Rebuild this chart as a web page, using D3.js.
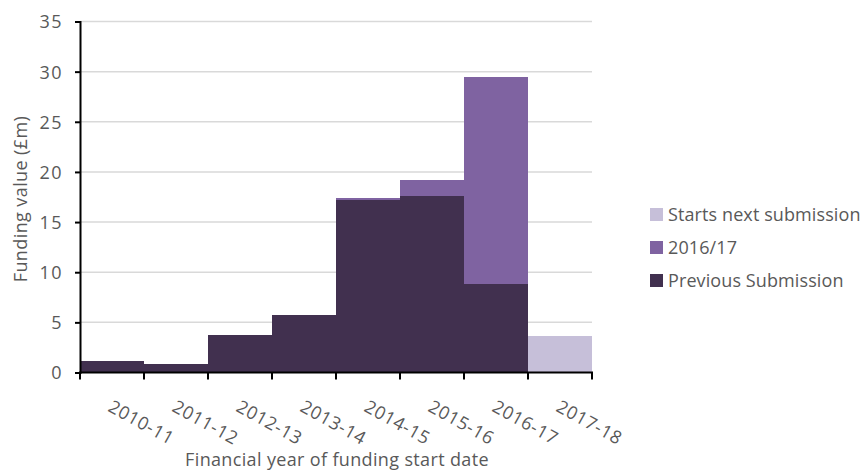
<!DOCTYPE html>
<html>
<head>
<meta charset="utf-8">
<script src="https://cdn.jsdelivr.net/npm/d3@7"></script>
<style>
  html, body { margin: 0; padding: 0; background: #fff; }
  svg text { font-family: "Open Sans", "Noto Sans", sans-serif; fill: #595959; }
</style>
</head>
<body>
<svg id="chart" width="867" height="476"></svg>
<script>
// Financial years (category axis)
const years = ["2010-11", "2011-12", "2012-13", "2013-14", "2014-15", "2015-16", "2016-17", "2017-18"];

// Funding value (£m) per series, stacked bottom to top
const previousSubmission = [1.1, 0.8, 3.7, 5.7, 17.25, 17.6, 8.8, 0];
const current201617     = [0, 0, 0, 0, 0.15, 1.55, 20.7, 0];
const startsNext        = [0, 0, 0, 0, 0, 0, 0, 3.65];

const seriesNames = ["Previous Submission", "2016/17", "Starts next submission"];
const seriesColors = ["#41304f", "#7f63a1", "#c6bfd9"];

const yTicks = [0, 5, 10, 15, 20, 25, 30, 35];

const rows = years.map((y, i) => ({
  year: y,
  "Previous Submission": previousSubmission[i],
  "2016/17": current201617[i],
  "Starts next submission": startsNext[i]
}));

const svg = d3.select("#chart");
const plotLeft = 80, plotRight = 592, plotTop = 21.5, plotBottom = 372.5;

const x = d3.scaleBand().domain(years).range([plotLeft, plotRight]).padding(0);
const y = d3.scaleLinear().domain([0, 35]).range([plotBottom, plotTop]);

// Horizontal gridlines
svg.append("g")
  .selectAll("line")
  .data(yTicks.filter(t => t > 0))
  .join("line")
  .attr("x1", plotLeft).attr("x2", plotRight)
  .attr("y1", d => y(d)).attr("y2", d => y(d))
  .attr("stroke", "#d9d9d9").attr("stroke-width", 1.5);

// Stacked bars
const stack = d3.stack().keys(seriesNames)(rows);
const color = d3.scaleOrdinal().domain(seriesNames).range(seriesColors);

svg.append("g")
  .selectAll("g")
  .data(stack)
  .join("g")
  .attr("fill", d => color(d.key))
  .selectAll("rect")
  .data(d => d.filter(p => p[1] - p[0] > 0))
  .join("rect")
  .attr("x", d => x(d.data.year))
  .attr("width", x.bandwidth())
  .attr("y", d => y(d[1]))
  .attr("height", d => y(d[0]) - y(d[1]))
  .attr("shape-rendering", "crispEdges");

// Y axis
const yAxis = svg.append("g")
  .attr("transform", `translate(${plotLeft},0)`)
  .call(d3.axisLeft(y).tickValues(yTicks).tickSize(5).tickPadding(12));
yAxis.select(".domain").attr("stroke", "#000").attr("stroke-width", 2);
yAxis.selectAll(".tick line").attr("stroke", "#000").attr("stroke-width", 2);
yAxis.selectAll(".tick text")
  .style("font-size", "18px")
  .style("letter-spacing", "1.5px")
  .style("font-family", "'Open Sans', sans-serif")
  .attr("fill", "#595959")
  .attr("dy", "0.36em");

// X axis: ticks on band boundaries
const xAxisG = svg.append("g");
xAxisG.append("line")
  .attr("x1", plotLeft - 1).attr("x2", plotRight + 1)
  .attr("y1", plotBottom).attr("y2", plotBottom)
  .attr("stroke", "#000").attr("stroke-width", 2);
const boundaries = years.map(d => x(d)).concat([x(years[years.length - 1]) + x.bandwidth()]);
xAxisG.selectAll("line.tk")
  .data(boundaries)
  .join("line").attr("class", "tk")
  .attr("x1", d => d).attr("x2", d => d)
  .attr("y1", plotBottom).attr("y2", plotBottom + 7)
  .attr("stroke", "#000").attr("stroke-width", 2);

// Rotated category labels
xAxisG.selectAll("text")
  .data(years)
  .join("text")
  .attr("transform", d => `translate(${x(d) + x.bandwidth() / 2 - 5},${plotBottom + 38}) rotate(29)`)
  .attr("text-anchor", "start")
  .style("font-size", "18px")
  .style("letter-spacing", "0.6px")
  .text(d => d);

// Axis titles
svg.append("text")
  .attr("transform", `translate(27,199) rotate(-90)`)
  .attr("text-anchor", "middle")
  .style("font-size", "18px")
  .style("letter-spacing", "0.4px")
  .text("Funding value (£m)");

svg.append("text")
  .attr("x", 337).attr("y", 466)
  .attr("text-anchor", "middle")
  .style("font-size", "18px")
  .style("letter-spacing", "0.35px")
  .text("Financial year of funding start date");

// Legend (top entry is the top of the stack)
const legendItems = seriesNames.slice().reverse();
const legend = svg.append("g").attr("transform", "translate(650,208)");
const li = legend.selectAll("g")
  .data(legendItems)
  .join("g")
  .attr("transform", (d, i) => `translate(0,${i * 33})`);
li.append("rect")
  .attr("width", 13).attr("height", 13)
  .attr("fill", d => color(d));
li.append("text")
  .attr("x", 18).attr("y", 12.5)
  .style("font-size", "18px")
  .style("letter-spacing", "0.1px")
  .text(d => d);
</script>
</body>
</html>
